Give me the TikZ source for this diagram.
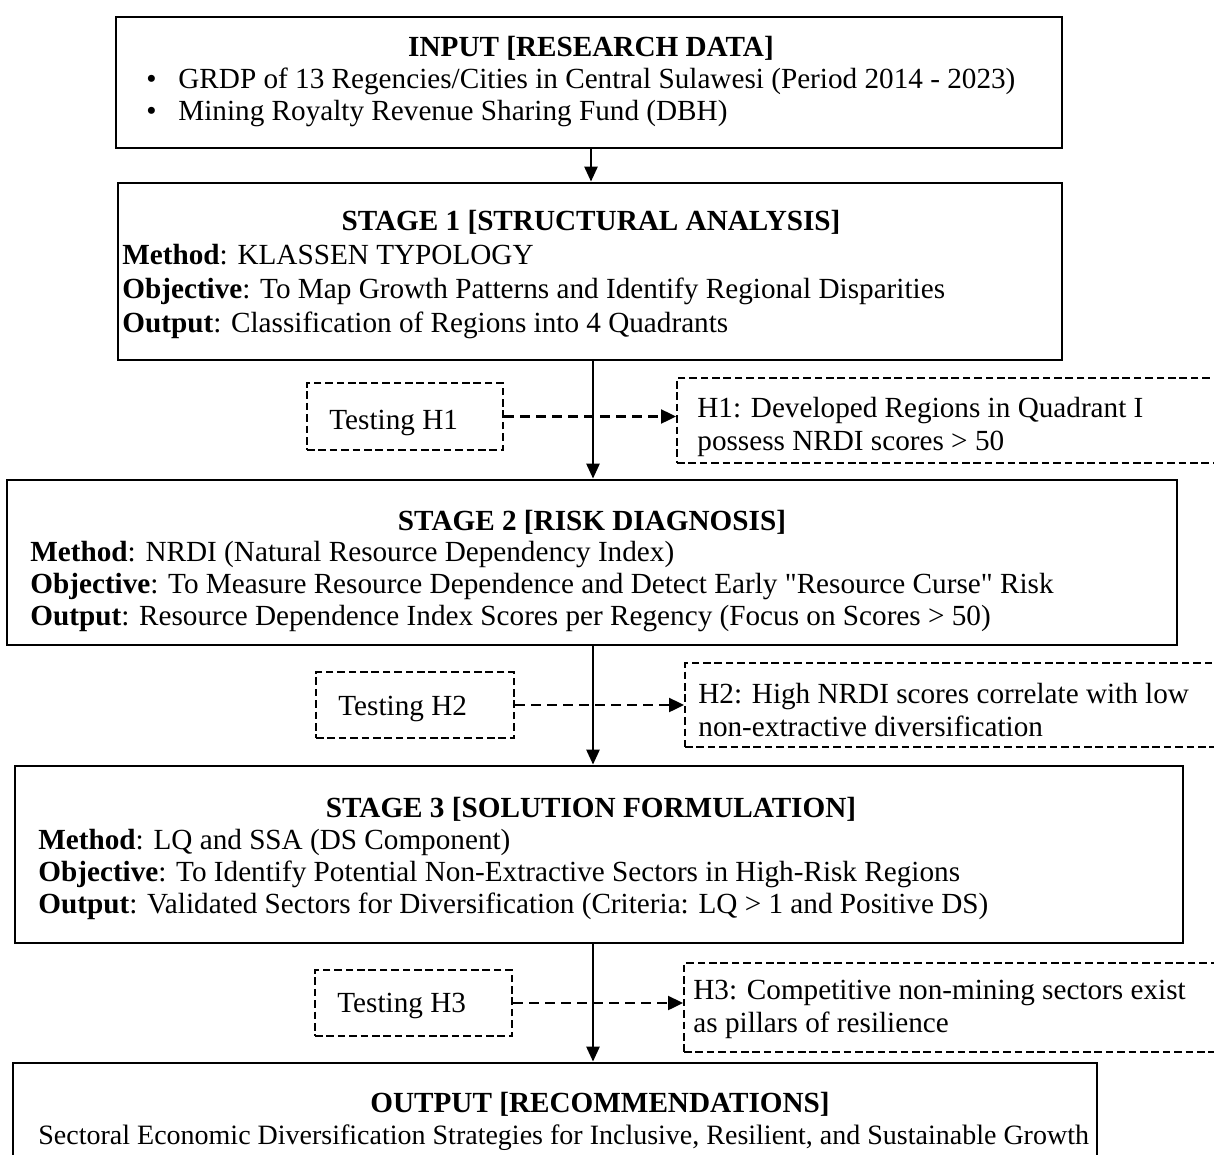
\documentclass[tikz,border=0pt]{standalone}
\usepackage{fontspec}
\setmainfont{Liberation Serif}[Ligatures=TeXOff]
\usetikzlibrary{arrows.meta,fit}
\begin{document}
\begin{tikzpicture}[x=0.5pt,y=-0.5pt,
  box/.style={draw, line width=1.4pt, inner sep=0pt},
  dbox/.style={draw, line width=1pt, dash pattern=on 3.8pt off 1.9pt, inner sep=0pt},
  txt/.style={inner sep=0pt, anchor=base west, font=\fontsize{14.6}{17}\selectfont},
  ttl/.style={inner sep=0pt, anchor=base, font=\fontsize{14.6}{17}\selectfont\bfseries},
  link/.style={line width=1.3pt, -{Triangle[length=7.5pt,width=6.5pt]}},
  dlink/.style={line width=1.2pt, dash pattern=on 5pt off 3pt, -{Triangle[length=7.5pt,width=7pt]}}]
\useasboundingbox (0,0) rectangle (1214,1155);
\clip (0,0) rectangle (1214,1155);
\fill[white] (0,0) rectangle (1214,1155);

% boxes
\node[box, fit={(116,17) (1062,148)}] (in) {};
\node[box, fit={(118,183) (1062,360)}] (s1) {};
\node[box, fit={(7,480) (1177,645)}] (s2) {};
\node[box, fit={(15,766) (1183,943)}] (s3) {};
\node[box, fit={(13,1063) (1097,1200)}] (out) {};

\node[dbox, fit={(307,383) (503,450)}] (t1) {};
\node[dbox, fit={(677,378) (1260,463)}] (h1) {};
\node[dbox, fit={(316,672) (514,738)}] (t2) {};
\node[dbox, fit={(685,663) (1260,747)}] (h2) {};
\node[dbox, fit={(315,970) (512,1036)}] (t3) {};
\node[dbox, fit={(684,963) (1260,1052)}] (h3) {};

\coordinate (spine) at (593,0);
\coordinate (spine0) at (591,0);

% texts: input
\node[ttl] (inT) at (591,57) {INPUT [RESEARCH DATA]};
\node[txt] (inB1) at (146,89) {\textbullet};
\node[txt] (inL1) at (178,89) {GRDP of 13 Regencies/Cities in Central Sulawesi (Period 2014 - 2023)};
\node[txt] (inB2) at (146,121) {\textbullet};
\node[txt] (inL2) at (178,121) {Mining Royalty Revenue Sharing Fund (DBH)};

% stage 1
\node[ttl] (s1T) at (591,231) {STAGE 1 [STRUCTURAL ANALYSIS]};
\node[txt] (s1a) at (122,264) {\textbf{Method}: KLASSEN TYPOLOGY};
\node[txt] (s1b) at (122,298) {\textbf{Objective}: To Map Growth Patterns and Identify Regional Disparities};
\node[txt] (s1c) at (122,332) {\textbf{Output}: Classification of Regions into 4 Quadrants};

\node[txt] (t1x) at (329,429) {Testing H1};
\node[txt] (h1a) at (697,417) {H1: Developed Regions in Quadrant I};
\node[txt] (h1b) at (697,450) {possess NRDI scores > 50};

% stage 2
\node[ttl] (s2T) at (592,530) {STAGE 2 [RISK DIAGNOSIS]};
\node[txt] (s2a) at (30,561) {\textbf{Method}: NRDI (Natural Resource Dependency Index)};
\node[txt] (s2b) at (30,593) {\textbf{Objective}: To Measure Resource Dependence and Detect Early "Resource Curse" Risk};
\node[txt] (s2c) at (30,625) {\textbf{Output}: Resource Dependence Index Scores per Regency (Focus on Scores > 50)};

\node[txt] (t2x) at (338,715) {Testing H2};
\node[txt] (h2a) at (698,703) {H2: High NRDI scores correlate with low};
\node[txt] (h2b) at (698,736) {non-extractive diversification};

% stage 3
\node[ttl] (s3T) at (591,817) {STAGE 3 [SOLUTION FORMULATION]};
\node[txt] (s3a) at (38,849) {\textbf{Method}: LQ and SSA (DS Component)};
\node[txt] (s3b) at (38,881) {\textbf{Objective}: To Identify Potential Non-Extractive Sectors in High-Risk Regions};
\node[txt] (s3c) at (38,913) {\textbf{Output}: Validated Sectors for Diversification (Criteria: LQ > 1 and Positive DS)};

\node[txt] (t3x) at (337,1012) {Testing H3};
\node[txt] (h3a) at (693,999) {H3: Competitive non-mining sectors exist};
\node[txt] (h3b) at (693,1032) {as pillars of resilience};

% output
\node[ttl] (oT) at (600,1112) {OUTPUT [RECOMMENDATIONS]};
\node[txt, font=\fontsize{14}{17}\selectfont] (oa) at (38,1144) {Sectoral Economic Diversification Strategies for Inclusive, Resilient, and Sustainable Growth};

% connectors
\draw[link] (in.south -| spine0) -- (s1.north -| spine0);
\draw[link] (s1.south -| spine) -- (s2.north -| spine);
\draw[link] (s2.south -| spine) -- (s3.north -| spine);
\draw[link] (s3.south -| spine) -- (out.north -| spine);

\draw[dlink] (t1.east) -- (t1.east -| h1.west);
\draw[dlink] (t2.east) -- (t2.east -| h2.west);
\draw[dlink] (t3.east) -- (t3.east -| h3.west);
\end{tikzpicture}
\end{document}
